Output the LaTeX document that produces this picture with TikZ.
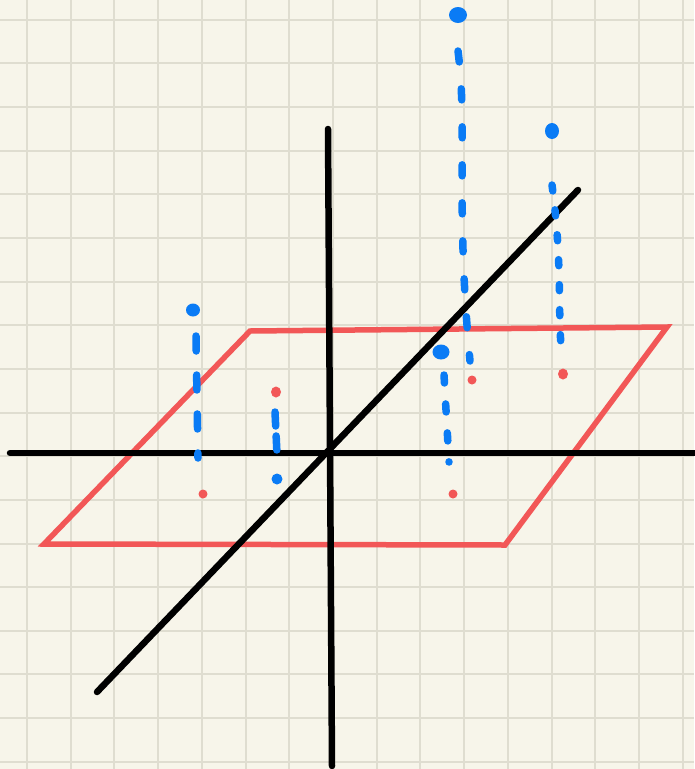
\documentclass[tikz,border=0pt]{standalone}
\begin{document}
\begin{tikzpicture}[x=1pt,y=-1pt,
  gridline/.style={draw=gridc,line width=2pt},
  axis/.style={draw=black,line width=6.5pt,line cap=round},
  plane/.style={draw=redc,line width=5.5pt,line join=miter},
  proj/.style={draw=bluec,line width=7.5pt,line cap=round},
  bdot/.style={fill=bluec},
  rdot/.style={fill=redc}]
\definecolor{bg}{HTML}{F7F5EA}
\definecolor{gridc}{HTML}{DFDDD0}
\definecolor{redc}{HTML}{F25757}
\definecolor{bluec}{HTML}{0A7BF5}
\fill[bg] (0,0) rectangle (694,769);
\useasboundingbox (0,0) rectangle (694,769);
% grid
\foreach \i in {0,...,15} {\draw[gridline] (27+43.72*\i,0) -- (27+43.72*\i,769);}
\foreach \j in {0,...,17} {\draw[gridline] (0,19.7+43.65*\j) -- (694,19.7+43.65*\j);}
% plane
\coordinate (p1) at (250,331);
\coordinate (p2) at (667,327);
\coordinate (p3) at (505,545);
\coordinate (p4) at (44,544);
\draw[plane] (p1) -- (p2) -- (p3) -- (p4) -- cycle;
% axes
\coordinate (xa) at (10,453);
\coordinate (xb) at (700,453);
\coordinate (ya) at (328,129);
\coordinate (yb) at (332,766);
\coordinate (za) at (97,692);
\coordinate (zb) at (578,190);
\draw[axis] (xa) -- (xb);
\draw[axis] (ya) -- (yb);
\draw[axis] (za) -- (zb);
% projection 1
\coordinate (b1) at (193,310);
\coordinate (r1) at (203,494);
\draw[proj,dash pattern=on 15pt off 24pt] (196,336) -- (198,458);
\fill[bdot] (b1) ellipse [x radius=7,y radius=6.5];
\fill[rdot] (r1) circle (4.5);
% projection 2
\coordinate (r2) at (276,392);
\coordinate (b2) at (277,479);
\draw[proj,dash pattern=on 14pt off 10pt] (275,412) -- (277,454);
\fill[rdot] (r2) ellipse [x radius=5,y radius=5.5];
\fill[bdot] (b2) circle (5.5);
% projection 3
\coordinate (b3) at (458,15);
\coordinate (r3) at (472,380);
\draw[proj,dash pattern=on 11pt off 27pt] (458,51) .. controls (468,130) and (455,200) .. (470,361);
\fill[bdot] (b3) ellipse [x radius=9,y radius=8];
\fill[rdot] (r3) circle (4.5);
% projection 4
\coordinate (b4) at (441,352);
\coordinate (r4) at (453,494);
\draw[proj,dash pattern=on 8pt off 21pt] (444,375) -- (449,462);
\fill[bdot] (b4) ellipse [x radius=8.5,y radius=7.5];
\fill[rdot] (r4) circle (4.5);
% projection 5
\coordinate (b5) at (552,131);
\coordinate (r5) at (563,374);
\draw[proj,dash pattern=on 6pt off 19pt] (552,185) .. controls (562,260) and (558,300) .. (561,347);
\fill[bdot] (b5) ellipse [x radius=7,y radius=8];
\fill[rdot] (r5) ellipse [x radius=5,y radius=5.5];
\end{tikzpicture}
\end{document}
